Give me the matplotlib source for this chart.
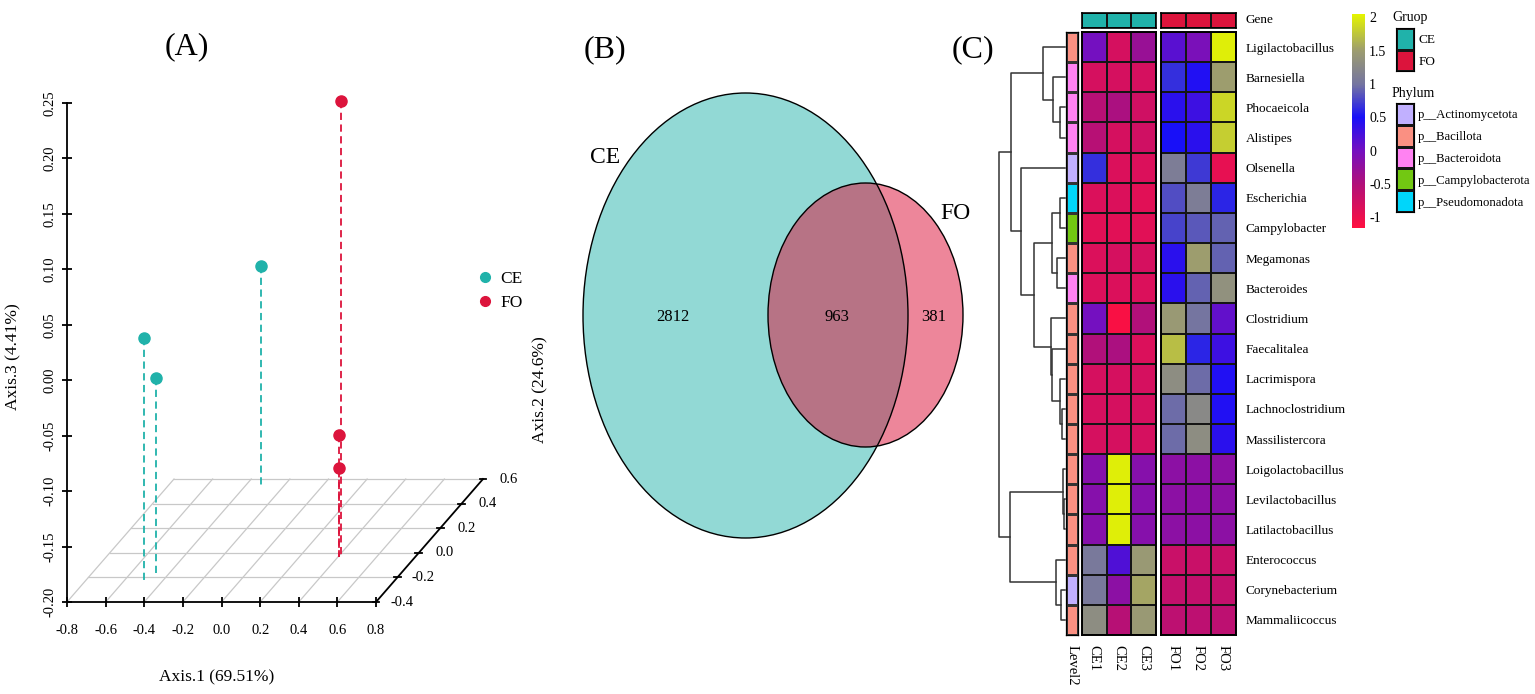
import numpy as np
import matplotlib as mpl
mpl.use("Agg")
from matplotlib import pyplot as plt
from matplotlib.patches import Ellipse
from matplotlib.colors import LinearSegmentedColormap, ListedColormap
from matplotlib.lines import Line2D

plt.rcParams['font.family'] = ['Liberation Serif', 'DejaVu Serif']

# ---------------- data ----------------
# (A) PCoA, 3 samples per group: Axis.1, Axis.2, Axis.3
ce_x = [-0.49, -0.45, -0.31]
ce_y = [-0.24, -0.20, 0.53]
ce_z = [0.02, -0.02, 0.00]
fo_x = [0.41, 0.405, 0.405]
fo_y = [-0.02, -0.035, -0.035]
fo_z = [0.21, -0.09, -0.12]

# (B) Venn counts
venn_ce_only = 2812
venn_shared = 963
venn_fo_only = 381

# (C) heatmap
genera = ["Ligilactobacillus", "Barnesiella", "Phocaeicola", "Alistipes", "Olsenella",
          "Escherichia", "Campylobacter", "Megamonas", "Bacteroides", "Clostridium",
          "Faecalitalea", "Lacrimispora", "Lachnoclostridium", "Massilistercora",
          "Loigolactobacillus", "Levilactobacillus", "Latilactobacillus",
          "Enterococcus", "Corynebacterium", "Mammaliicoccus"]
ce_samples = ["CE1", "CE2", "CE3"]
fo_samples = ["FO1", "FO2", "FO3"]
heat_ce = [[0.0, -0.8, -0.3], [-0.8, -0.8, -0.8], [-0.55, -0.45, -0.75], [-0.55, -0.8, -0.75],
           [0.65, -0.85, -0.85], [-0.85, -0.85, -0.9], [-0.9, -0.9, -0.9], [-0.85, -0.8, -0.8],
           [-0.85, -0.85, -0.85], [0.0, -1.1, -0.5], [-0.5, -0.45, -0.85], [-0.8, -0.8, -0.8],
           [-0.8, -0.8, -0.8], [-0.8, -0.8, -0.8], [-0.15, 2.0, -0.15], [-0.15, 2.0, -0.15],
           [-0.15, 2.0, -0.15], [1.05, 0.2, 1.45], [1.05, -0.2, 1.55], [1.3, -0.55, 1.45]]
heat_fo = [[0.15, -0.05, 2.0], [0.65, 0.45, 1.5], [0.4, 0.3, 1.85], [0.5, 0.4, 1.8],
           [1.1, 0.7, -0.95], [0.8, 1.1, 0.6], [0.75, 0.85, 0.9], [0.4, 1.5, 0.9],
           [0.4, 0.9, 1.35], [1.45, 1.0, 0.1], [1.7, 0.6, 0.3], [1.3, 0.95, 0.45],
           [0.95, 1.25, 0.45], [0.95, 1.3, 0.4], [-0.2, -0.2, -0.2], [-0.2, -0.2, -0.2],
           [-0.2, -0.2, -0.2], [-0.7, -0.7, -0.7], [-0.65, -0.65, -0.65], [-0.6, -0.6, -0.6]]
phyla = ["p__Actinomycetota", "p__Bacillota", "p__Bacteroidota", "p__Campylobacterota", "p__Pseudomonadota"]
row_phylum = [1, 2, 2, 2, 0, 4, 3, 1, 2, 1, 1, 1, 1, 1, 1, 1, 1, 1, 0, 1]
# row dendrogram, linkage style (left, right, height)
merges = [(2, 3, 5), (1, 20, 12), (0, 21, 22), (5, 6, 5), (7, 8, 8), (23, 24, 13),
          (12, 13, 3), (11, 26, 5), (10, 27, 13), (9, 28, 14), (25, 29, 31), (4, 30, 44),
          (22, 31, 54), (15, 16, 1), (14, 33, 2), (18, 19, 4), (17, 35, 9), (34, 36, 55),
          (32, 37, 66)]

teal = '#20B2AA'
crimson = '#DC143C'
phylum_colors = ['#C1B0FF', '#FA9082', '#FF82F2', '#72C812', '#00D6FA']

W, H = 1535, 694
fig = plt.figure(figsize=(W / 100, H / 100), dpi=100)


def px_axes(x0, y0, x1, y1):
    return fig.add_axes([x0 / W, 1 - y1 / H, (x1 - x0) / W, (y1 - y0) / H])


# ---------------- (A) ----------------
axA = px_axes(67, 103, 376, 602)
axA.set_xlim(-0.8, 0.8)
axA.set_ylim(-0.2, 0.25)
for s in ['top', 'right']:
    axA.spines[s].set_visible(False)
for s in ['left', 'bottom']:
    axA.spines[s].set_linewidth(1.3)
xt = np.round(np.arange(-0.8, 0.81, 0.2), 1) + 0.0
axA.set_xticks(xt, ["%.1f" % v for v in xt])
zt = np.round(np.arange(-0.2, 0.251, 0.05), 2) + 0.0
axA.set_yticks(zt, ["%.2f" % v for v in zt], rotation=90, va='center')
axA.tick_params(direction='inout', length=7, width=1.3, labelsize=10.5)
axA.tick_params(axis='x', pad=12)
axA.tick_params(axis='y', pad=4)
axA.patch.set_alpha(0)

# depth projection (Axis.2 from -0.4 to 0.6)
dx_per = 0.554
dz_per = 0.1109
ymin = -0.4


def proj(x, y, z):
    return x + (y - ymin) * dx_per, z + (y - ymin) * dz_per


depths = np.round(np.arange(-0.4, 0.61, 0.2), 1) + 0.0
for d in depths[1:]:
    p0 = proj(-0.8, d, -0.2)
    p1 = proj(0.8, d, -0.2)
    axA.plot([p0[0], p1[0]], [p0[1], p1[1]], color='#C8C8C8', lw=0.9, clip_on=False, zorder=1)
for xv in xt[:-1]:
    p0 = proj(xv, -0.4, -0.2)
    p1 = proj(xv, 0.6, -0.2)
    axA.plot([p0[0], p1[0]], [p0[1], p1[1]], color='#C8C8C8', lw=0.9, clip_on=False, zorder=1)
p0 = proj(0.8, -0.4, -0.2)
p1 = proj(0.8, 0.6, -0.2)
axA.plot([p0[0], p1[0]], [p0[1], p1[1]], color='black', lw=1.3, clip_on=False, zorder=2)
for d in depths:
    px, pz = proj(0.8, d, -0.2)
    axA.plot([px - 0.018, px + 0.018], [pz, pz], color='black', lw=1.3, clip_on=False)
    axA.text(px + 0.135, pz, "%.1f" % d, ha='center', va='center', fontsize=10.5)

for xs, ys, zs, c in [(ce_x, ce_y, ce_z, teal), (fo_x, fo_y, fo_z, crimson)]:
    for x, y, z in zip(xs, ys, zs):
        top = proj(x, y, z)
        bot = proj(x, y, -0.2)
        axA.plot([top[0], bot[0]], [top[1], bot[1]], color=c, lw=1.3, ls=(0, (4, 2.5)),
                 clip_on=False, zorder=3)
        axA.plot(top[0], top[1], 'o', color=c, ms=8, clip_on=False, zorder=4)

fig.text(13 / W, 1 - 357 / H, "Axis.3 (4.41%)", rotation=90, ha='center', va='center', fontsize=12.5)
fig.text(217 / W, 1 - 677 / H, "Axis.1 (69.51%)", ha='center', va='center', fontsize=12.5)
fig.text(540 / W, 1 - 390 / H, "Axis.2 (24.6%)", rotation=90, ha='center', va='center', fontsize=12.5)
handles = [Line2D([], [], marker='o', ls='', color=teal, ms=7),
           Line2D([], [], marker='o', ls='', color=crimson, ms=7)]
fig.legend(handles, ["CE", "FO"], loc='center left', bbox_to_anchor=(462 / W, 1 - 291 / H),
           frameon=False, fontsize=12.5, handlelength=0.8, handletextpad=0.5, labelspacing=0.45)

fig.text(187 / W, 1 - 47 / H, "(A)", ha='center', va='center', fontsize=23)
fig.text(605 / W, 1 - 50 / H, "(B)", ha='center', va='center', fontsize=23)
fig.text(973 / W, 1 - 50 / H, "(C)", ha='center', va='center', fontsize=23)

# ---------------- (B) ----------------
axB = px_axes(540, 0, 1010, 694)
axB.set_xlim(540, 1010)
axB.set_ylim(694, 0)
axB.axis('off')
axB.add_patch(Ellipse((745.5, 315.5), 325, 445, facecolor='#27B5AD', alpha=0.5, edgecolor='none'))
axB.add_patch(Ellipse((865.5, 315), 195, 264, facecolor='#DD0F37', alpha=0.5, edgecolor='none'))
axB.add_patch(Ellipse((745.5, 315.5), 325, 445, facecolor='none', edgecolor='black', lw=1))
axB.add_patch(Ellipse((865.5, 315), 195, 264, facecolor='none', edgecolor='black', lw=1))
axB.text(605, 157, "CE", ha='center', va='center', fontsize=17)
axB.text(955, 213, "FO", ha='center', va='center', fontsize=17)
axB.text(673, 317, str(venn_ce_only), ha='center', va='center', fontsize=12)
axB.text(837, 317, str(venn_shared), ha='center', va='center', fontsize=12)
axB.text(934, 317, str(venn_fo_only), ha='center', va='center', fontsize=12)

# ---------------- (C) ----------------
vmin, vmax = -1.16, 2.05
nodes = [-1.16, -0.5, 0.0, 0.5, 1.0, 1.5, 2.05]
node_cols = ['#FF1040', '#B0107A', '#7410C0', '#1810F8', '#7575A0', '#9C9C70', '#E4F400']
cmap = LinearSegmentedColormap.from_list('hm', [((v - vmin) / (vmax - vmin), c) for v, c in zip(nodes, node_cols)])

lab_fs = 9.5
n = len(genera)
axCE = px_axes(1082, 32, 1156, 635)
axFO = px_axes(1161, 32, 1236, 635)
for ax, vals, labs in [(axCE, heat_ce, ce_samples), (axFO, heat_fo, fo_samples)]:
    ax.pcolormesh(np.array(vals), cmap=cmap, vmin=vmin, vmax=vmax, edgecolors='#151515', linewidth=1.1)
    ax.set_ylim(n, 0)
    ax.set_xticks(np.arange(3) + 0.5, labs, rotation=270, va='top', ha='center', fontsize=10.5)
    ax.tick_params(axis='x', length=0, pad=7)
    ax.set_yticks([])
    for s in ax.spines.values():
        s.set_linewidth(1.4)
axFO.yaxis.tick_right()
axFO.set_yticks(np.arange(n) + 0.5, genera, fontsize=lab_fs)
axFO.tick_params(axis='y', length=0, pad=7)

# gene annotation bar
gcmap = ListedColormap([teal, crimson])
for x0, x1, g in [(1082, 1156, 0), (1161, 1236, 1)]:
    axg = px_axes(x0, 13, x1, 28)
    axg.pcolormesh(np.full((1, 3), g), cmap=gcmap, vmin=0, vmax=1, edgecolors='#151515', linewidth=1.1)
    axg.set_xticks([])
    axg.set_yticks([])
    for s in axg.spines.values():
        s.set_linewidth(1.2)
fig.text(1245 / W, 1 - 20 / H, "Gene", ha='left', va='center', fontsize=lab_fs)

# phylum column
axL = px_axes(1066, 32, 1078, 635)
pcmap = ListedColormap(phylum_colors)
axL.pcolormesh(np.array(row_phylum).reshape(-1, 1), cmap=pcmap, vmin=-0.5, vmax=4.5,
               edgecolors='#333333', linewidth=0.9)
axL.set_ylim(n, 0)
axL.set_yticks([])
axL.set_xticks([0.5], ["Level2"], rotation=270, va='top', ha='center', fontsize=10.5)
axL.tick_params(axis='x', length=0, pad=7)
for s in axL.spines.values():
    s.set_linewidth(0.9)

# dendrogram
axD = px_axes(998, 32, 1066, 635)
axD.set_xlim(67, -1)
axD.set_ylim(n, 0)
axD.axis('off')
pos = {i: i + 0.5 for i in range(n)}
hgt = {i: 0 for i in range(n)}
for k, (a, b, h) in enumerate(merges):
    axD.plot([hgt[a], h, h, hgt[b]], [pos[a], pos[a], pos[b], pos[b]], color='#333333', lw=1.1)
    pos[n + k] = (pos[a] + pos[b]) / 2
    hgt[n + k] = h

# colour bar
cax = px_axes(1352, 14, 1365, 228)
sm = mpl.cm.ScalarMappable(norm=mpl.colors.Normalize(vmin, vmax), cmap=cmap)
cb = fig.colorbar(sm, cax=cax, ticks=[-1, -0.5, 0, 0.5, 1, 1.5, 2])
cb.outline.set_visible(False)
cb.ax.set_yticklabels(["-1", "-0.5", "0", "0.5", "1", "1.5", "2"])
cb.ax.tick_params(length=0, pad=3, labelsize=10)

# annotation legends
fig.text(1392 / W, 1 - 17 / H, "Gruop", ha='left', va='center', fontsize=10)
axGL = px_axes(1396, 28, 1414, 71)
axGL.pcolormesh(np.array([[0], [1]]), cmap=gcmap, vmin=0, vmax=1, edgecolors='#151515', linewidth=1)
axGL.set_ylim(2, 0)
axGL.set_xticks([])
axGL.yaxis.tick_right()
axGL.set_yticks([0.5, 1.5], ["CE", "FO"], fontsize=9.5)
axGL.tick_params(length=0, pad=3)

fig.text(1392 / W, 1 - 94 / H, "Phylum", ha='left', va='center', fontsize=10)
axPL = px_axes(1396, 103, 1414, 212)
axPL.pcolormesh(np.arange(5).reshape(-1, 1), cmap=pcmap, vmin=-0.5, vmax=4.5, edgecolors='#151515', linewidth=1)
axPL.set_ylim(5, 0)
axPL.set_xticks([])
axPL.yaxis.tick_right()
axPL.set_yticks(np.arange(5) + 0.5, phyla, fontsize=9.2)
axPL.tick_params(length=0, pad=3)

fig.savefig("out.png", dpi=100)
